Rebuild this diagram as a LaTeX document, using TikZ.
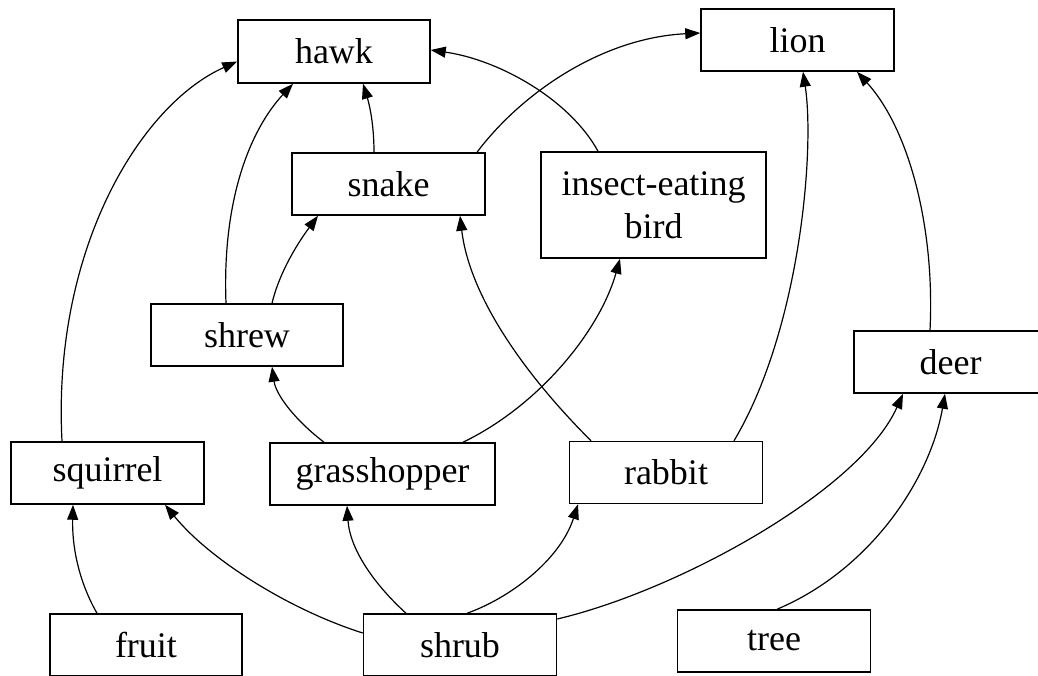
\documentclass[tikz,border=0pt]{standalone}
\usepackage{fontspec}
\setmainfont{Liberation Serif}
\usetikzlibrary{arrows.meta}
\begin{document}
\begin{tikzpicture}[x=1pt,y=-1pt,
  box/.style={draw, line width=1.5pt, minimum width=193pt, minimum height=62pt,
    inner sep=0pt, font=\fontsize{36}{43}\selectfont, align=center},
  link/.style={line width=1.2pt, -{Triangle[length=15pt,width=11pt]}}]
\useasboundingbox (0,0) rectangle (1038,675);
\clip (0,0) rectangle (1038,675);
% nodes
\node[box, minimum width=192pt, minimum height=63pt] (hawk) at (334,51.5) {hawk};
\node[box] (lion) at (797.5,40) {lion};
\node[box] (snake) at (388.5,184) {snake};
\node[box, minimum width=225pt, minimum height=106pt] (bird) at (653.5,205) {insect-eating\\bird};
\node[box, minimum width=192pt] (shrew) at (247,335) {shrew};
\node[box] (deer) at (950.5,362) {deer};
\node[box] (squirrel) at (107.5,473) {squirrel};
\node[box, minimum width=225pt] (grasshopper) at (382.5,474) {grasshopper};
\node[box] (rabbit) at (666,472.5) {rabbit};
\node[box, minimum width=192pt] (fruit) at (146,645) {fruit};
\node[box] (shrub) at (460,645) {shrub};
\node[box] (tree) at (774,641) {tree};
% connectors
\draw[link] ([xshift=-45.5pt]squirrel.north) .. controls (52,250) and (140,105) .. ([yshift=-10pt]hawk.west);
\draw[link] ([xshift=-21pt]shrew.north) .. controls (222,200) and (250,130) .. ([xshift=-41pt]hawk.south);
\draw[link] ([xshift=-14.5pt]snake.north) .. controls (374,120) and (368,100) .. ([xshift=29pt]hawk.south);
\draw[link] ([xshift=25pt]shrew.north) .. controls (280,270) and (300,240) .. ([xshift=-70.5pt]snake.south);
\draw[link] ([xshift=-55.5pt]bird.north) .. controls (570,100) and (500,60) .. ([yshift=1.5pt]hawk.east);
\draw[link] ([xshift=88.5pt]snake.north) .. controls (520,95) and (600,38) .. ([yshift=7pt]lion.west);
\draw[link] ([xshift=-75pt]rabbit.north) .. controls (530,380) and (470,300) .. ([xshift=71.5pt]snake.south);
\draw[link] ([xshift=-58.5pt]grasshopper.north) .. controls (295,420) and (276,395) .. ([xshift=25pt]shrew.south);
\draw[link] ([xshift=80.5pt]grasshopper.north) .. controls (540,405) and (600,330) .. ([xshift=-33.5pt]bird.south);
\draw[link] ([xshift=68pt]rabbit.north) .. controls (800,330) and (815,150) .. ([xshift=5.5pt]lion.south);
\draw[link] ([xshift=-20.5pt]deer.north) .. controls (935,230) and (910,130) .. ([xshift=59.5pt]lion.south);
\draw[link] ([xshift=-49pt]fruit.north) .. controls (78,580) and (72,545) .. ([xshift=-34.5pt]squirrel.south);
\draw[link] ([yshift=12pt]shrub.west) .. controls (290,610) and (210,560) .. ([xshift=57.5pt]squirrel.south);
\draw[link] ([xshift=-54pt]shrub.north) .. controls (375,585) and (350,550) .. ([xshift=-35.5pt]grasshopper.south);
\draw[link] ([xshift=7pt]shrub.north) .. controls (510,598) and (560,560) .. ([xshift=-88pt]rabbit.south);
\draw[link] ([yshift=26pt]shrub.east) .. controls (680,590) and (860,490) .. ([xshift=-47.5pt]deer.south);
\draw[link] ([xshift=3pt]tree.north) .. controls (870,570) and (930,480) .. ([xshift=-5.5pt]deer.south);
\end{tikzpicture}
\end{document}
